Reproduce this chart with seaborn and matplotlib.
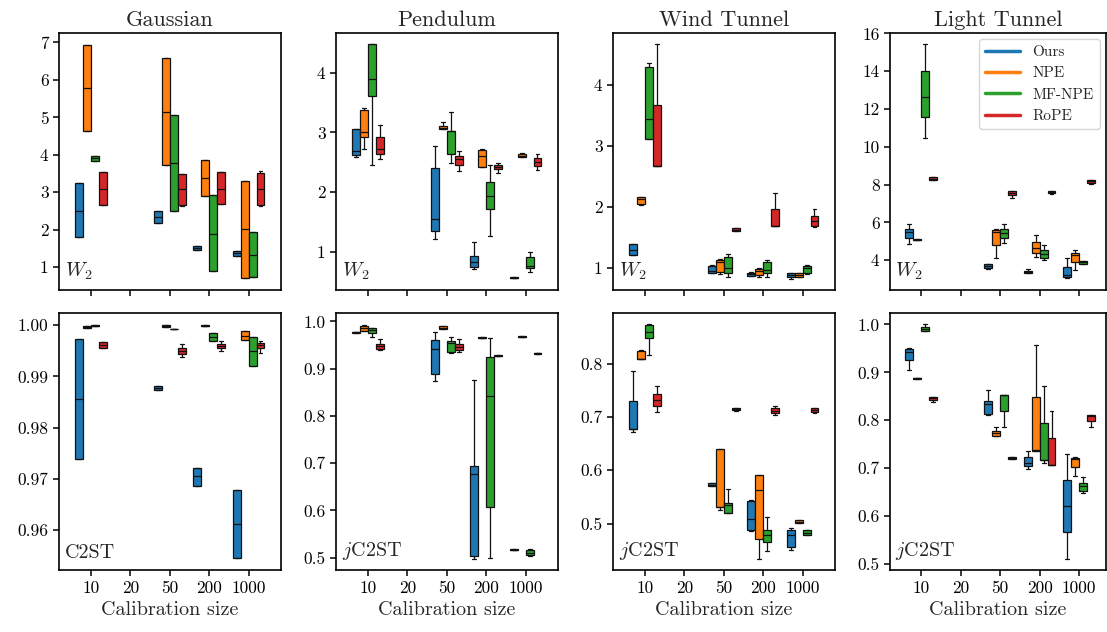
import numpy as np
import pandas as pd
import matplotlib
matplotlib.use("Agg")
import matplotlib.pyplot as plt
import seaborn as sns
from matplotlib.lines import Line2D

SIZES = ["10", "20", "50", "200", "1000"]
DATA_SIZES = ["10", "50", "200", "1000"]
METHODS = ["Ours", "NPE", "MF-NPE", "RoPE"]
COLORS = ["#1f77b4", "#ff7f0e", "#2ca02c", "#d62728"]
TITLES = ["Gaussian", "Pendulum", "Wind Tunnel", "Light Tunnel"]
ROW_LABELS = [["$W_2$"] * 4, ["C2ST", "$j$C2ST", "$j$C2ST", "$j$C2ST"]]

# each box: (whisker low, q1, median, q3, whisker high) per calibration size 10, 50, 200, 1000
GAUSS_W2 = {
    "Ours":   [(1.80, 1.80, 2.51, 3.24, 3.24), (2.19, 2.19, 2.34, 2.49, 2.49), (1.45, 1.45, 1.52, 1.58, 1.58), (1.30, 1.30, 1.37, 1.43, 1.43)],
    "NPE":    [(4.64, 4.64, 5.78, 6.94, 6.94), (3.72, 3.72, 5.15, 6.58, 6.58), (2.90, 2.90, 3.38, 3.86, 3.86), (0.71, 0.71, 2.01, 3.31, 3.31)],
    "MF-NPE": [(3.84, 3.84, 3.91, 3.98, 3.98), (2.50, 2.50, 3.79, 5.07, 5.07), (0.90, 0.90, 1.90, 2.92, 2.92), (0.75, 0.75, 1.33, 1.93, 1.93)],
    "RoPE":   [(2.67, 2.67, 3.08, 3.53, 3.55), (2.64, 2.67, 3.09, 3.50, 3.50), (2.68, 2.68, 3.10, 3.53, 3.53), (2.64, 2.66, 3.08, 3.51, 3.56)],
}
GAUSS_C2ST = {
    "Ours":   [(0.9738, 0.9738, 0.9856, 0.9973, 0.9973), (0.9873, 0.9873, 0.9877, 0.9881, 0.9881), (0.9686, 0.9686, 0.9705, 0.9722, 0.9722), (0.9545, 0.9545, 0.9611, 0.9678, 0.9678)],
    "NPE":    [(0.99945, 0.99945, 0.9997, 0.99995, 0.99995), (0.9996, 0.9996, 0.99985, 1.0, 1.0), (0.9999, 0.9999, 0.99995, 1.0, 1.0), (0.9971, 0.9971, 0.9980, 0.9988, 0.9988)],
    "MF-NPE": [(0.9999, 0.9999, 0.99993, 0.99997, 0.99997), (0.9992, 0.9992, 0.99922, 0.99925, 0.99925), (0.9969, 0.9969, 0.9977, 0.9984, 0.9984), (0.9921, 0.9921, 0.9949, 0.9977, 0.9977)],
    "RoPE":   [(0.9956, 0.9956, 0.9962, 0.9967, 0.9967), (0.9939, 0.9943, 0.9949, 0.9956, 0.9964), (0.9949, 0.9956, 0.9960, 0.9964, 0.9970), (0.9945, 0.9956, 0.9961, 0.9965, 0.9970)],
}
PEND_W2 = {
    "Ours":   [(2.59, 2.62, 2.68, 3.05, 3.05), (1.21, 1.35, 1.55, 2.41, 2.78), (0.71, 0.74, 0.82, 0.93, 1.16), (0.555, 0.555, 0.56, 0.565, 0.565)],
    "NPE":    [(2.73, 2.92, 3.00, 3.38, 3.41), (3.05, 3.05, 3.07, 3.10, 3.18), (2.42, 2.42, 2.61, 2.70, 2.72), (2.58, 2.58, 2.60, 2.63, 2.65)],
    "MF-NPE": [(2.45, 3.62, 3.89, 4.48, 4.48), (2.48, 2.63, 3.02, 3.03, 3.35), (1.26, 1.72, 1.93, 2.17, 2.45), (0.65, 0.72, 0.75, 0.91, 1.00)],
    "RoPE":   [(2.55, 2.64, 2.73, 2.93, 3.13), (2.36, 2.46, 2.55, 2.61, 2.68), (2.32, 2.38, 2.42, 2.45, 2.48), (2.37, 2.44, 2.51, 2.57, 2.64)],
}
PEND_C2ST = {
    "Ours":   [(0.976, 0.976, 0.977, 0.9785, 0.9785), (0.874, 0.888, 0.941, 0.960, 0.977), (0.497, 0.504, 0.677, 0.695, 0.876), (0.516, 0.516, 0.517, 0.518, 0.518)],
    "NPE":    [(0.980, 0.980, 0.986, 0.991, 0.993), (0.984, 0.984, 0.987, 0.991, 0.991), (0.964, 0.964, 0.965, 0.966, 0.966), (0.966, 0.966, 0.967, 0.968, 0.968)],
    "MF-NPE": [(0.966, 0.975, 0.981, 0.986, 0.987), (0.934, 0.936, 0.954, 0.958, 0.966), (0.500, 0.607, 0.843, 0.924, 0.965), (0.503, 0.505, 0.511, 0.516, 0.518)],
    "RoPE":   [(0.939, 0.941, 0.947, 0.953, 0.963), (0.935, 0.940, 0.946, 0.953, 0.962), (0.926, 0.926, 0.927, 0.928, 0.928), (0.932, 0.932, 0.933, 0.934, 0.934)],
}
WIND_W2 = {
    "Ours":   [(1.21, 1.21, 1.30, 1.39, 1.39), (0.92, 0.92, 0.95, 1.03, 1.05), (0.87, 0.87, 0.90, 0.93, 0.94), (0.83, 0.85, 0.89, 0.92, 0.92)],
    "NPE":    [(2.03, 2.05, 2.13, 2.16, 2.16), (0.91, 0.94, 1.10, 1.13, 1.15), (0.86, 0.89, 0.95, 0.99, 1.00), (0.86, 0.86, 0.89, 0.92, 0.92)],
    "MF-NPE": [(3.11, 3.11, 3.44, 4.30, 4.36), (0.85, 0.93, 1.01, 1.19, 1.23), (0.85, 0.92, 0.98, 1.10, 1.14), (0.91, 0.92, 1.00, 1.03, 1.05)],
    "RoPE":   [(2.67, 2.67, 2.68, 3.67, 4.67), (1.61, 1.61, 1.63, 1.66, 1.66), (1.69, 1.69, 1.70, 1.97, 2.24), (1.67, 1.70, 1.77, 1.86, 1.97)],
}
WIND_C2ST = {
    "Ours":   [(0.672, 0.677, 0.678, 0.730, 0.786), (0.570, 0.570, 0.573, 0.576, 0.576), (0.487, 0.488, 0.509, 0.542, 0.544), (0.451, 0.456, 0.479, 0.488, 0.491)],
    "NPE":    [(0.808, 0.808, 0.809, 0.824, 0.826), (0.525, 0.531, 0.532, 0.639, 0.639), (0.434, 0.471, 0.563, 0.592, 0.592), (0.501, 0.501, 0.503, 0.506, 0.506)],
    "MF-NPE": [(0.817, 0.849, 0.859, 0.873, 0.874), (0.519, 0.519, 0.535, 0.538, 0.565), (0.449, 0.465, 0.479, 0.488, 0.513), (0.478, 0.478, 0.483, 0.488, 0.488)],
    "RoPE":   [(0.710, 0.720, 0.732, 0.744, 0.758), (0.711, 0.713, 0.715, 0.717, 0.717), (0.704, 0.707, 0.712, 0.717, 0.720), (0.707, 0.710, 0.714, 0.717, 0.717)],
}
LIGHT_W2 = {
    "Ours":   [(4.85, 5.17, 5.48, 5.68, 5.91), (3.52, 3.61, 3.72, 3.81, 3.81), (3.31, 3.31, 3.38, 3.45, 3.52), (3.05, 3.10, 3.21, 3.67, 4.11)],
    "NPE":    [(5.08, 5.08, 5.10, 5.12, 5.12), (4.11, 4.81, 5.48, 5.61, 5.68), (4.19, 4.37, 4.64, 4.95, 5.34), (3.47, 3.93, 4.30, 4.41, 4.57)],
    "MF-NPE": [(10.49, 11.57, 12.65, 14.02, 15.44), (4.90, 5.17, 5.47, 5.68, 5.94), (4.04, 4.14, 4.32, 4.57, 4.83), (3.81, 3.81, 3.89, 3.98, 3.98)],
    "RoPE":   [(8.25, 8.25, 8.32, 8.38, 8.38), (7.27, 7.44, 7.57, 7.64, 7.64), (7.48, 7.55, 7.62, 7.69, 7.69), (8.06, 8.11, 8.18, 8.24, 8.24)],
}
LIGHT_C2ST = {
    "Ours":   [(0.904, 0.925, 0.943, 0.949, 0.951), (0.812, 0.814, 0.835, 0.840, 0.863), (0.698, 0.705, 0.711, 0.723, 0.735), (0.511, 0.567, 0.622, 0.675, 0.729)],
    "NPE":    [(0.887, 0.887, 0.888, 0.889, 0.889), (0.768, 0.768, 0.773, 0.778, 0.787), (0.736, 0.736, 0.738, 0.848, 0.957), (0.684, 0.702, 0.720, 0.721, 0.724)],
    "MF-NPE": [(0.986, 0.986, 0.991, 0.994, 1.000), (0.786, 0.819, 0.852, 0.853, 0.853), (0.711, 0.717, 0.717, 0.794, 0.872), (0.648, 0.653, 0.662, 0.670, 0.681)],
    "RoPE":   [(0.838, 0.843, 0.846, 0.849, 0.849), (0.719, 0.719, 0.721, 0.723, 0.723), (0.706, 0.706, 0.706, 0.763, 0.819), (0.787, 0.798, 0.810, 0.812, 0.812)],
}

PANELS = [[GAUSS_W2, PEND_W2, WIND_W2, LIGHT_W2],
          [GAUSS_C2ST, PEND_C2ST, WIND_C2ST, LIGHT_C2ST]]
YLIMS = [[(0.394, 7.25), (0.354, 4.67), (0.645, 4.85), (2.43, 16.02)],
         [(0.9522, 1.0024), (0.474, 1.0177), (0.413, 0.895), (0.4875, 1.024)]]
YTICKS = [[[1, 2, 3, 4, 5, 6, 7], [1, 2, 3, 4], [1, 2, 3, 4], [4, 6, 8, 10, 12, 14, 16]],
          [[0.96, 0.97, 0.98, 0.99, 1.00], [0.5, 0.6, 0.7, 0.8, 0.9, 1.0], [0.5, 0.6, 0.7, 0.8], [0.5, 0.6, 0.7, 0.8, 0.9, 1.0]]]
YFMT = [["{:.0f}"] * 4, ["{:.2f}", "{:.1f}", "{:.1f}", "{:.1f}"]]

sns.set_style("ticks")
plt.rcParams["font.family"] = "serif"
plt.rcParams["font.serif"] = ["cmr10", "DejaVu Serif"]
plt.rcParams["mathtext.fontset"] = "cm"
plt.rcParams["axes.unicode_minus"] = False
plt.rcParams["axes.formatter.use_mathtext"] = True

W, H = 1107, 632
fig = plt.figure(figsize=(W / 100, H / 100), dpi=100)
lefts = [59, 336, 613, 890]
widths = [222, 222, 222, 216]
tops = [33, 313]
ax_h = 257
XLIMS = [(-0.81, 4.82), (-0.81, 4.82), (-0.81, 4.82), (-0.79, 4.68)]

for r in range(2):
    for c in range(4):
        ax = fig.add_axes([lefts[c] / W, 1 - (tops[r] + ax_h) / H, widths[c] / W, ax_h / H])
        panel = PANELS[r][c]
        rows = []
        for m in METHODS:
            for s, box in zip(DATA_SIZES, panel[m]):
                for v in box:
                    rows.append((s, m, v))
        df = pd.DataFrame(rows, columns=["size", "method", "value"])
        sns.boxplot(data=df, x="size", y="value", hue="method", order=SIZES,
                    hue_order=METHODS, palette=COLORS, saturation=1, whis=(0, 100),
                    width=0.8, gap=0, linewidth=0.9, linecolor="#111111",
                    showfliers=False, legend=False, ax=ax)
        ax.set_xlim(*XLIMS[c])
        ax.set_ylim(*YLIMS[r][c])
        ax.set_yticks(YTICKS[r][c])
        ax.set_yticklabels([YFMT[r][c].format(t) for t in YTICKS[r][c]])
        ax.set_ylabel("")
        for sp in ax.spines.values():
            sp.set_linewidth(1.2)
            sp.set_color("black")
        ax.tick_params(axis="both", which="major", length=4.5, width=1.1, labelsize=12.5,
                       colors="black", pad=3)
        ax.text(0.025, 0.03, ROW_LABELS[r][c], transform=ax.transAxes, fontsize=14.5,
                ha="left", va="bottom")
        if r == 0:
            ax.set_title(TITLES[c], fontsize=16, pad=5)
            ax.set_xlabel("")
            ax.tick_params(labelbottom=False)
        else:
            ax.set_xlabel("Calibration size", fontsize=14.5, labelpad=4)
        if r == 0 and c == 3:
            handles = [Line2D([0], [0], color=col, lw=2.5) for col in COLORS]
            ax.legend(handles, METHODS, loc="upper right", fontsize=11,
                      handlelength=2.3, borderaxespad=0.4, framealpha=0.8)

fig.savefig("out.png", dpi=100)
